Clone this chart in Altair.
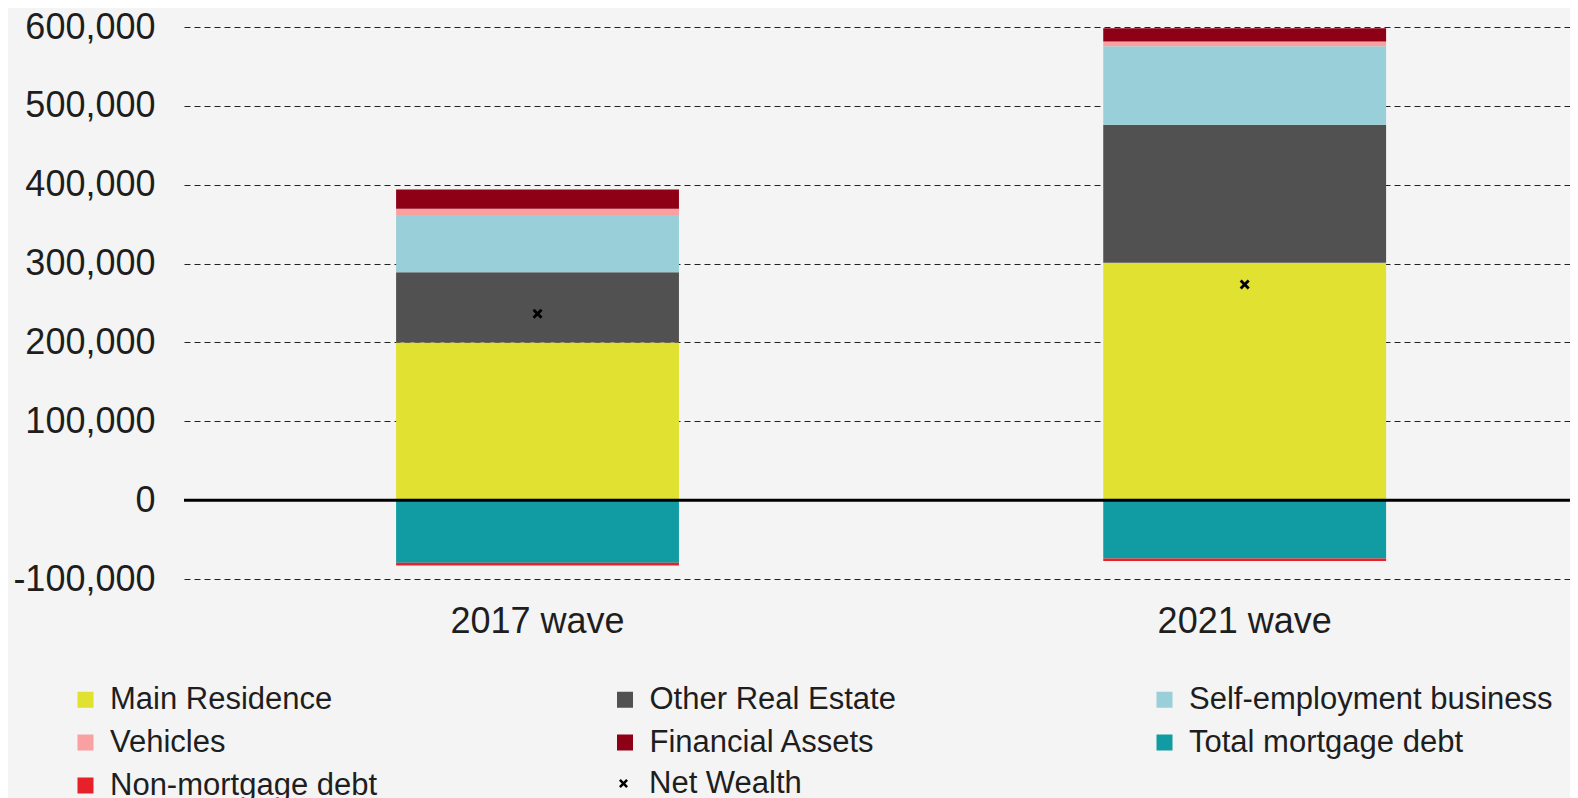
import altair as alt
import pandas as pd

categories = ["2017 wave", "2021 wave"]
components = ["Main Residence", "Other Real Estate", "Self-employment business",
              "Vehicles", "Financial Assets", "Total mortgage debt", "Non-mortgage debt"]
colors = ["#e1e132", "#515151", "#99cfd8", "#f9a0a0", "#8e0015", "#109ca2", "#e8202a"]
values_2017 = [200000, 89000, 72500, 8000, 24500, -79500, -3500]
values_2021 = [301000, 175000, 99500, 6000, 17000, -74000, -3200]
net_wealth = [236500, 273500]
y_ticks = [-100000, 0, 100000, 200000, 300000, 400000, 500000, 600000]

rows = []
for ci, cat in enumerate(categories):
    vals = values_2017 if ci == 0 else values_2021
    for k, comp in enumerate(components):
        rows.append({"wave": cat, "component": comp, "value": vals[k], "order": k})
df = pd.DataFrame(rows)
nw = pd.DataFrame({"wave": categories, "net": net_wealth, "label": ["Net Wealth"] * len(categories)})
zero_df = pd.DataFrame({"y": [0]})

XPATH = "M-1,-0.6L-0.6,-1L0,-0.4L0.6,-1L1,-0.6L0.4,0L1,0.6L0.6,1L0,0.4L-0.6,1L-1,0.6L-0.4,0Z"

x_scale = alt.Scale(domain=categories, paddingInner=0.6, paddingOuter=0.28, align=0.5356)
y_scale = alt.Scale(domain=[-100000, 600000], nice=False, zero=False)

x_enc = alt.X("wave:N", scale=x_scale, sort=categories,
              axis=alt.Axis(title=None, labelAngle=0, ticks=False, domain=False,
                            labelFontSize=36, labelPadding=25, labelColor="#1e1e1e",
                            grid=False))

bars = alt.Chart(df).mark_bar().encode(
    x=x_enc,
    y=alt.Y("value:Q", scale=y_scale, stack="zero",
            axis=alt.Axis(title=None, values=y_ticks,
                          labelExpr="replace(format(datum.value, ','), '\u2212', '-')",
                          grid=True, gridDash=[6, 4], gridColor="#222", gridWidth=1,
                          ticks=False, tickSize=0, domain=False, labelFontSize=36,
                          labelPadding=29, labelColor="#1e1e1e")),
    color=alt.Color("component:N", scale=alt.Scale(domain=components, range=colors),
                    legend=alt.Legend(title=None, orient="none", legendX=-114, legendY=657,
                                      direction="horizontal",
                                      columns=3, gridAlign="all", columnPadding=135.5,
                                      rowPadding=11, symbolType="square", symbolSize=256,
                                      symbolStrokeWidth=0, labelFontSize=31, labelOffset=9,
                                      labelLimit=600, labelColor="#1e1e1e", padding=0)),
    order=alt.Order("order:Q"),
)

zero_rule = alt.Chart(zero_df).mark_rule(color="black", strokeWidth=3).encode(
    y=alt.Y("y:Q", scale=y_scale)
)

points = alt.Chart(nw).mark_point(filled=True, color="black", size=100, opacity=1).encode(
    x=alt.X("wave:N", scale=x_scale, sort=categories),
    y=alt.Y("net:Q", scale=y_scale),
    shape=alt.Shape("label:N", scale=alt.Scale(domain=["Net Wealth"], range=[XPATH]),
                    legend=alt.Legend(title=None, orient="none", legendX=424, legendY=741,
                                      symbolSize=81, symbolFillColor="black",
                                      symbolStrokeWidth=0, labelFontSize=31,
                                      labelOffset=10, labelLimit=600,
                                      labelColor="#1e1e1e", padding=0)),
)

chart = alt.layer(bars, zero_rule, points).resolve_scale(shape="independent").properties(
    width=1386, height=552,
    autosize=alt.AutoSizeParams(type="none"),
    padding={"left": 176, "top": 19, "right": 0, "bottom": 219},
).configure(
    background="#f4f4f4",
    font="Liberation Sans",
).configure_view(stroke=None)

chart.save("out.html", embed_options={"renderer": "svg", "actions": False})
